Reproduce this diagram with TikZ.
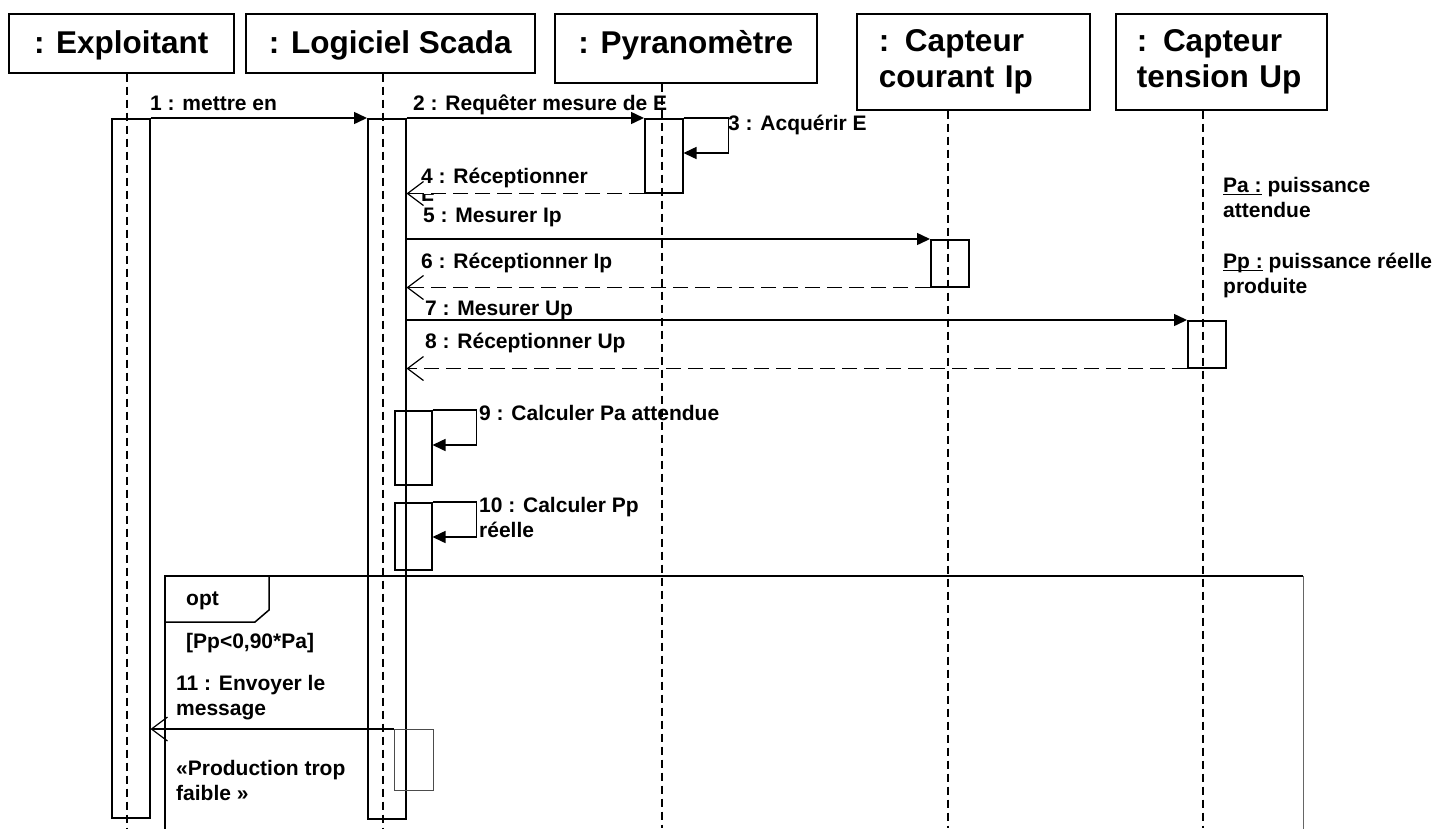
\documentclass[tikz,border=0pt]{standalone}
\usepackage{fontspec}
\setmainfont{Liberation Sans}
\usetikzlibrary{arrows.meta, positioning}

\newcommand{\ulnote}[1]{\underline{\smash{#1}}}

\tikzset{
  actor/.style={draw, line width=1.5pt, anchor=north west, inner sep=0pt,
    font=\bfseries\fontsize{31.5}{36}\selectfont},
  bar/.style={draw, line width=1.5pt, anchor=north west, inner sep=0pt, minimum width=38pt},
  lifeline/.style={line width=1.3pt, dash pattern=on 8pt off 5pt},
  call/.style={line width=1.5pt, -{Triangle[length=13pt,width=12pt]}},
  reply/.style={line width=1.5pt, dash pattern=on 15pt off 7pt,
    -{Straight Barb[length=16pt,width=24pt,line width=1.2pt]}},
  async/.style={line width=1.2pt, -{Straight Barb[length=16pt,width=24pt,line width=1.2pt]}},
  msg/.style={anchor=base west, inner sep=0pt, align=left,
    font=\bfseries\fontsize{21}{24.5}\selectfont},
}

\begin{document}
\begin{tikzpicture}[x=1pt,y=-1pt]
  \useasboundingbox (0,0) rectangle (1438,828);

  % objets
  \node[actor, minimum width=225pt, text height=40pt, text depth=19pt] (expl) at (8,13) {: Exploitant};
  \node[actor, minimum width=289pt, text height=40pt, text depth=19pt] (scada) at (245,13) {: Logiciel Scada};
  \node[actor, minimum width=262pt, text height=40pt, text depth=29pt] (pyra) at (554,13) {: Pyranomètre};
  \node[actor, minimum height=96pt, inner xsep=22pt, text width=189pt, align=left] (courant) at (856,13) {: Capteur\\courant Ip};
  \node[actor, minimum height=96pt, inner xsep=21pt, text width=169pt, align=left] (tension) at (1115,13) {: Capteur\\tension Up};

  % lignes de vie
  \foreach \n/\x in {expl/127, scada/383, pyra/662, courant/948, tension/1203} {
    \coordinate (ll-\n) at (\x,828);
    \draw[lifeline] (\n.south -| ll-\n) -- (ll-\n);
  }

  % activations
  \node[bar, minimum height=699pt] (expl-bar) at (111,118) {};
  \node[bar, minimum height=700pt] (scada-bar) at (367,118) {};
  \node[bar, minimum height=74pt] (pyra-bar) at (644,118) {};
  \node[bar, minimum height=47pt] (courant-bar) at (930,239) {};
  \node[bar, minimum height=47pt] (tension-bar) at (1187,320) {};
  \node[bar, minimum width=37pt, minimum height=74pt] (calc-pa) at (394,410) {};
  \node[bar, minimum width=37pt, minimum height=67pt] (calc-pp) at (394,502) {};
  \node[bar, draw=black!70, line width=1pt, minimum width=39pt, minimum height=61pt] (send) at (394,729) {};

  % messages
  \draw[call] (expl-bar.north east) -- (scada-bar.north west);
  \draw[call] (scada-bar.north east) -- (pyra-bar.north west);
  \draw[call] (pyra-bar.north east) -- ++(45,0) -- ++(0,35) -- ++(-45,0);
  \draw[reply] (pyra-bar.south west) -- (pyra-bar.south west -| scada-bar.east);
  \draw[call] (courant-bar.north west -| scada-bar.east) -- (courant-bar.north west);
  \draw[reply] (courant-bar.south west) -- (courant-bar.south west -| scada-bar.east);
  \draw[call] (tension-bar.north west -| scada-bar.east) -- (tension-bar.north west);
  \draw[reply] (tension-bar.south west) -- (tension-bar.south west -| scada-bar.east);
  \draw[call] (calc-pa.north east) -- ++(44,0) -- ++(0,35) -- ++(-44,0);
  \draw[call] (calc-pp.north east) -- ++(44,0) -- ++(0,35) -- ++(-44,0);
  \draw[async] (send.north west) -- (send.north west -| expl-bar.east);

  \node[msg] (m1) at (150,110) {1 : mettre en};
  \node[msg] (m2) at (413,110) {2 : Requêter mesure de E};
  \node[msg] (m3) at (728,130) {3 : Acquérir E};
  \node[msg] (m4) at (421,183) {4 : Réceptionner};
  \begin{scope}
    \clip (415,194) rectangle (440,200);
    \node[msg] (m4e) at (421,207) {E};
  \end{scope}
  \node[msg] (m5) at (423,222) {5 : Mesurer Ip};
  \node[msg] (m6) at (421,268) {6 : Réceptionner Ip};
  \node[msg] (m7) at (425,315) {7 : Mesurer Up};
  \node[msg] (m8) at (425,348) {8 : Réceptionner Up};
  \node[msg] (m9) at (479,420) {9 : Calculer Pa attendue};
  \node[msg] (m10) at (479,537) {10 : Calculer Pp\\réelle};

  % fragment opt
  \draw[line width=1.5pt] (165,840) -- (165,576) -- (1303,576);
  \draw[line width=1pt, black!60] (1303,576) -- (1303,840);
  \draw[line width=1.5pt] (269,576) -- (269,610) -- (255,622) -- (165,622);
  \node[msg] (opt) at (186,605) {opt};
  \node[msg] (guard) at (186,648) {[Pp<0,90*Pa]};
  \node[msg] (m11) at (176,715) {11 : Envoyer le\\message};
  \node[msg] (m11txt) at (176,800) {«Production trop\\faible »};

  % notes
  \node[msg] (pa) at (1223,217) {\ulnote{Pa :} puissance\\attendue};
  \node[msg] (pp) at (1223,293) {\ulnote{Pp :} puissance réelle\\produite};
\end{tikzpicture}
\end{document}
